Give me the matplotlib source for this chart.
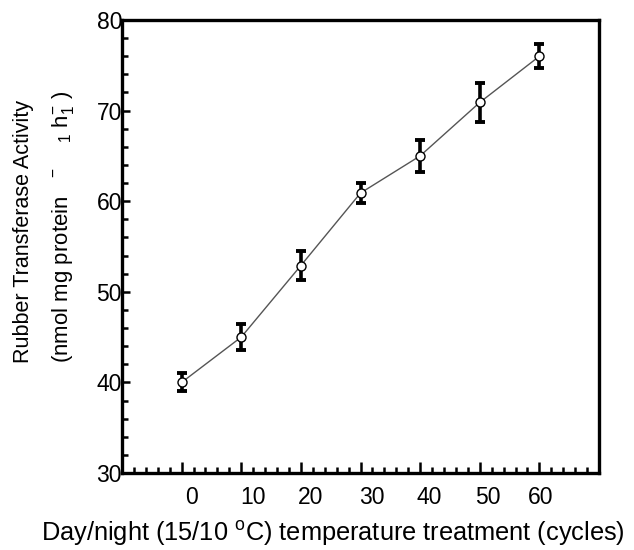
import matplotlib
matplotlib.use("Agg")
import matplotlib.pyplot as plt
from matplotlib.ticker import MultipleLocator

# ------------------------------------------------------
# Data
# ------------------------------------------------------

cycles = [0, 10, 20, 30, 40, 50, 60]
activity = [40.0, 45.0, 52.9, 60.9, 65.0, 70.9, 76.0]
errors = [1.0, 1.4, 1.6, 1.1, 1.8, 2.2, 1.3]

x_tick_labels = ["0", "10", "20", "30", "40", "50", "60"]
# labels sit a little right of their ticks in the original
x_label_pos = [1.7, 11.9, 21.7, 31.9, 41.6, 51.3, 60.2]
y_ticks = [30, 40, 50, 60, 70, 80]

# ------------------------------------------------------
# Fonts
# ------------------------------------------------------

plt.rcParams["font.family"] = ["Liberation Sans", "DejaVu Sans"]
plt.rcParams["mathtext.fontset"] = "custom"
plt.rcParams["mathtext.rm"] = "Liberation Sans"
plt.rcParams["mathtext.it"] = "Liberation Sans:italic"
plt.rcParams["mathtext.bf"] = "Liberation Sans:bold"

W, H = 634, 550
fig = plt.figure(figsize=(W / 100, H / 100), dpi=100)

# axes box in pixels: x 122-599, y 20-473 (from top)
ax = fig.add_axes([122 / W, (H - 473) / H, 477 / W, 453 / H])

# ------------------------------------------------------
# Line + error bars + open markers
# ------------------------------------------------------

ax.plot(cycles, activity, color="#555555", lw=1.0, zorder=2)

ax.errorbar(cycles, activity, yerr=errors, fmt="none",
            ecolor="black", elinewidth=2.6, capsize=3.6,
            capthick=2.8, zorder=3)

ax.plot(cycles, activity, "o", ms=6.5, mfc="white", mec="black",
        mew=1.0, zorder=4)

# ------------------------------------------------------
# Axes
# ------------------------------------------------------

ax.set_xlim(-10, 70)
ax.set_ylim(30, 80)

ax.xaxis.set_major_locator(MultipleLocator(10))
ax.xaxis.set_minor_locator(MultipleLocator(2))
ax.set_xticklabels([])

ax.set_yticks(y_ticks)
ax.yaxis.set_minor_locator(MultipleLocator(2))

ax.tick_params(axis="x", which="major", direction="in", length=8,
               width=1.8)
ax.tick_params(axis="x", which="minor", direction="in", length=4.5,
               width=1.8)
ax.tick_params(axis="y", which="major", direction="in", length=6,
               width=1.8, labelsize=16.5, pad=0)
ax.tick_params(axis="y", which="minor", direction="in", length=4,
               width=1.8)
ax.tick_params(top=False, right=False, which="both")

for side in ["left", "right", "top", "bottom"]:
    ax.spines[side].set_linewidth(2.4)

for xp, lab in zip(x_label_pos, x_tick_labels):
    ax.text(xp, -(498 - 473) / 453, lab, transform=ax.get_xaxis_transform(),
            ha="center", va="center", fontsize=16.5)

# ------------------------------------------------------
# Labels
# ------------------------------------------------------

fig.text(333 / W, 16 / H,
         r"Day/night (15/10 $^{\mathrm{o}}$C) temperature treatment (cycles)",
         ha="center", va="center", fontsize=18.3)

fig.text(23 / W, (H - 363) / H, "Rubber Transferase Activity",
         rotation=90, rotation_mode="anchor", ha="left", va="center",
         fontsize=15.5)

fig.text(63 / W, (H - 363) / H,
         r"(nmol mg protein   $^{-}$    $_{1}$ h$_{1}^{-}$ )",
         rotation=90, rotation_mode="anchor", ha="left", va="center",
         fontsize=16)

fig.savefig("out.png", dpi=100)
